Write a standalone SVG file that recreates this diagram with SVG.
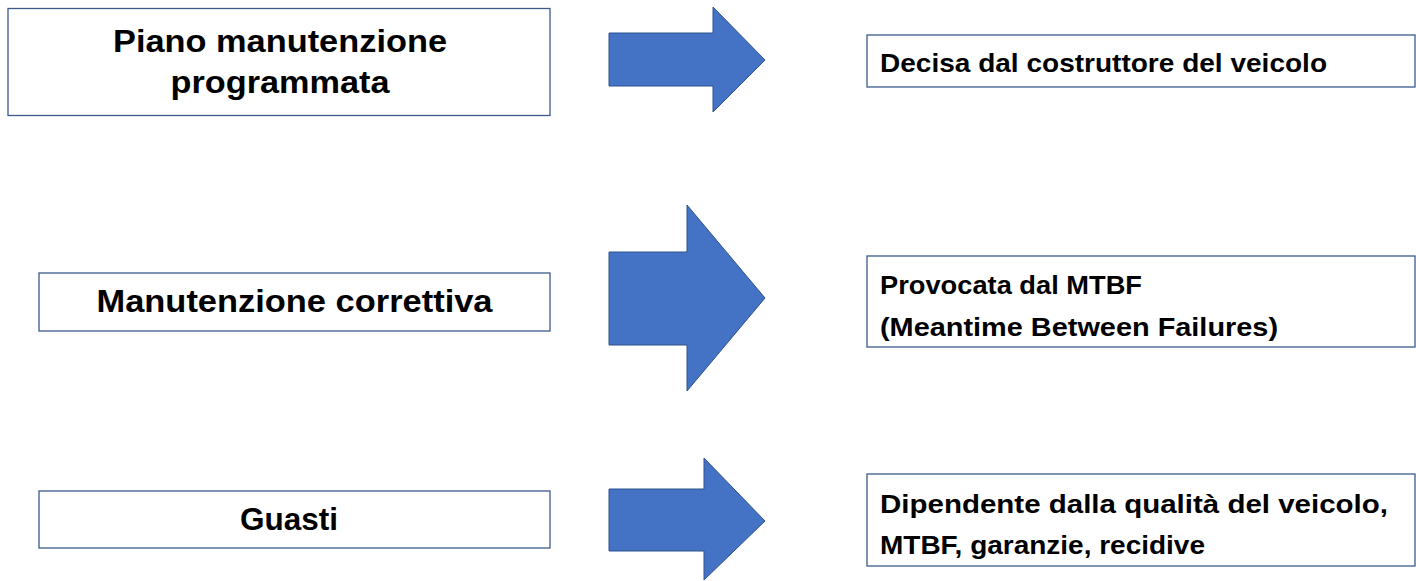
<svg xmlns="http://www.w3.org/2000/svg" width="1416" height="581" viewBox="0 0 1416 581">
<style>
.box{fill:#ffffff;stroke:#3B5A8C;stroke-width:1.3}
.arrow{fill:#4472C4;stroke:#2F528F;stroke-width:1}
.tl{font-family:"Liberation Sans",Arial,sans-serif;font-weight:bold;font-size:30.5px;fill:#000;text-anchor:middle}
.tr{font-family:"Liberation Sans",Arial,sans-serif;font-weight:bold;font-size:25.5px;fill:#000}
</style>
<rect width="1416" height="581" fill="#ffffff"/>
<g id="node-piano">
<rect class="box" x="8" y="8.5" width="542" height="107"/>
<text class="tl" x="280" y="52" textLength="334" lengthAdjust="spacingAndGlyphs">Piano manutenzione</text>
<text class="tl" x="280" y="93" textLength="219" lengthAdjust="spacingAndGlyphs">programmata</text>
</g>
<g id="node-correttiva">
<rect class="box" x="39" y="273" width="511" height="58"/>
<text class="tl" x="294.5" y="312" textLength="396" lengthAdjust="spacingAndGlyphs">Manutenzione correttiva</text>
</g>
<g id="node-guasti">
<rect class="box" x="39" y="491" width="511" height="57"/>
<text class="tl" x="289" y="530" textLength="98" lengthAdjust="spacingAndGlyphs">Guasti</text>
</g>
<g id="node-decisa">
<rect class="box" x="867" y="35" width="548" height="52"/>
<text class="tr" x="880" y="72" textLength="447" lengthAdjust="spacingAndGlyphs">Decisa dal costruttore del veicolo</text>
</g>
<g id="node-mtbf">
<rect class="box" x="867" y="256" width="548" height="91"/>
<text class="tr" x="880" y="294" textLength="262" lengthAdjust="spacingAndGlyphs">Provocata dal MTBF</text>
<text class="tr" x="880" y="336" textLength="398" lengthAdjust="spacingAndGlyphs">(Meantime Between Failures)</text>
</g>
<g id="node-qualita">
<rect class="box" x="867" y="474" width="548" height="92"/>
<text class="tr" x="880" y="513" textLength="508" lengthAdjust="spacingAndGlyphs">Dipendente dalla qualità del veicolo,</text>
<text class="tr" x="880" y="554" textLength="325" lengthAdjust="spacingAndGlyphs">MTBF, garanzie, recidive</text>
</g>
<g id="connectors">
<polygon class="arrow" points="609,33 713,33 713,7 765,60 713,112 713,86 609,86"/>
<polygon class="arrow" points="609,252 687,252 687,205 765,298 687,391 687,345 609,345"/>
<polygon class="arrow" points="609,489 704,489 704,458 765,521 704,580 704,551 609,551"/>
</g>
</svg>
